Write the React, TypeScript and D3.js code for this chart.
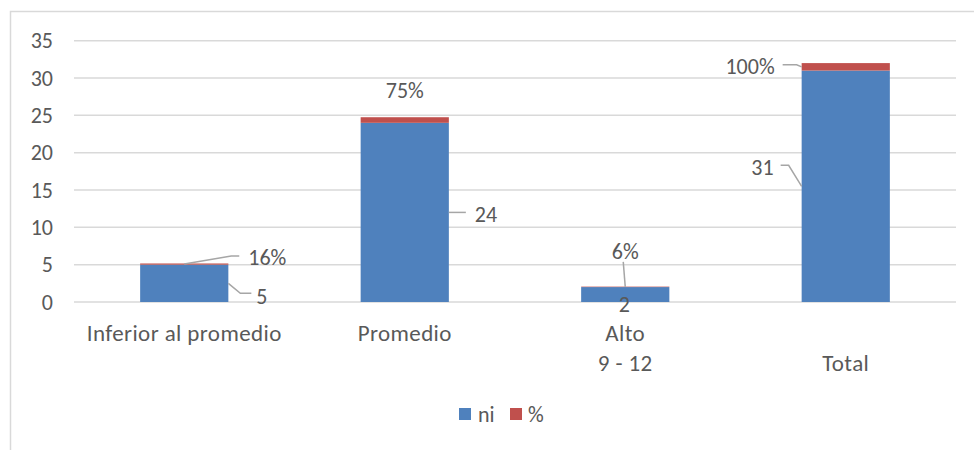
import React from "react";
import * as d3 from "d3";

const categories = ["Inferior al promedio", "Promedio", "Alto 9 - 12", "Total"];
const categoryLines = [["Inferior al promedio"], ["Promedio"], ["Alto", "9 - 12"], ["", "Total"]];
const niValues = [5, 24, 2, 31];
const pctValues = [0.16, 0.75, 0.06, 1.0];
const pctLabels = ["16%", "75%", "6%", "100%"];
const yTicks = [0, 5, 10, 15, 20, 25, 30, 35];
const seriesNames = ["ni", "%"];

const W = 974;
const H = 450;
const BLUE = "#4f81bd";
const RED = "#c0504d";
const TXT = "#595959";
const GRID = "#d9d9d9";
const LEAD = "#a6a6a6";
const FONT = "Calibri, Carlito, Lato, sans-serif";
const FS = 22;
const FS_CAT = 23;

type Lab = { anchor: "right" | "left" | "center"; tx: number; ty: number; ta: string; path: [number, number][] | null };
const niLayout: Lab[] = [
  { anchor: "right", tx: 28, ty: 13, ta: "start", path: [[0, 0], [12, 10], [23, 10]] },
  { anchor: "right", tx: 26, ty: 2, ta: "start", path: [[0, 0], [17, 0]] },
  { anchor: "center", tx: -1, ty: 10, ta: "middle", path: null },
  { anchor: "left", tx: -28, ty: -19, ta: "end", path: [[0, 0], [-13, -21], [-21, -21]] },
];
const pctLayout: Lab[] = [
  { anchor: "center", tx: 64, ty: -7, ta: "start", path: [[0, 0], [47, -8], [55, -8]] },
  { anchor: "center", tx: 0, ty: -30, ta: "middle", path: null },
  { anchor: "center", tx: 0, ty: -35, ta: "middle", path: [[0, 0], [-2, -25]] },
  { anchor: "left", tx: -27, ty: 0, ta: "end", path: [[0, 0], [-5, -2], [-19, -2]] },
];

export default function App() {
  const x = d3.scaleBand<string>().domain(categories).range([74, 956]).paddingInner(0.6).paddingOuter(0.3);
  const y = d3.scaleLinear().domain([0, 35]).range([302, 40.7]);
  const line = d3.line();

  const anchorPt = (i: number, kind: string, lo: number, hi: number): [number, number] => {
    const c = categories[i];
    const x0 = x(c)!;
    const bw = x.bandwidth();
    const ym = y((lo + hi) / 2);
    if (kind === "right") return [x0 + bw, ym];
    if (kind === "left") return [x0, ym];
    return [x0 + bw / 2, ym];
  };

  return (
    <svg width={W} height={H} style={{ position: "absolute", left: 0, top: 0, background: "#fff" }} fontFamily={FONT}>
      <rect x={10.5} y={11.5} width={980} height={460} fill="#fff" stroke="#d9d9d9" strokeWidth={1.5} />
      {yTicks.map((t) => (
        <g key={t}>
          <line x1={74} x2={956} y1={y(t)} y2={y(t)} stroke={GRID} strokeWidth={1.5} />
          <text x={53} y={y(t)} textAnchor="end" dominantBaseline="central" fontSize={FS} fill={TXT}>
            {t}
          </text>
        </g>
      ))}
      {categories.map((c, i) => (
        <g key={c}>
          <rect x={x(c)!} y={y(niValues[i])} width={x.bandwidth()} height={y(0) - y(niValues[i])} fill={BLUE} />
          <rect
            x={x(c)!}
            y={y(niValues[i] + pctValues[i])}
            width={x.bandwidth()}
            height={y(niValues[i]) - y(niValues[i] + pctValues[i])}
            fill={RED}
          />
        </g>
      ))}
      {categories.map((c, i) => {
        const out: JSX.Element[] = [];
        const items = [
          { lay: niLayout[i], lo: 0, hi: niValues[i], txt: String(niValues[i]) },
          { lay: pctLayout[i], lo: niValues[i], hi: niValues[i] + pctValues[i], txt: pctLabels[i] },
        ];
        items.forEach((it, k) => {
          const [ax, ay] = anchorPt(i, it.lay.anchor, it.lo, it.hi);
          if (it.lay.path) {
            out.push(
              <path
                key={`p${k}`}
                d={line(it.lay.path.map(([dx, dy]) => [ax + dx, ay + dy]))!}
                fill="none"
                stroke={LEAD}
                strokeWidth={1.5}
              />
            );
          }
          out.push(
            <text
              key={`t${k}`}
              x={ax + it.lay.tx}
              y={ay + it.lay.ty}
              textAnchor={it.lay.ta}
              dominantBaseline="central"
              fontSize={FS}
              fill={TXT}
            >
              {it.txt}
            </text>
          );
        });
        return <g key={c}>{out}</g>;
      })}
      {categories.map((c, i) => (
        <text key={c} x={x(c)! + x.bandwidth() / 2} textAnchor="middle" fontSize={FS_CAT} letterSpacing={0.4} fill={TXT}>
          {categoryLines[i].map((ln, j) => (
            <tspan key={j} x={x(c)! + x.bandwidth() / 2} y={333 + j * 30} dominantBaseline="central">
              {ln}
            </tspan>
          ))}
        </text>
      ))}
      <g>
        <rect x={459} y={408} width={12} height={12} fill={BLUE} />
        <text x={478} y={414} dominantBaseline="central" fontSize={FS} fill={TXT}>
          {seriesNames[0]}
        </text>
        <rect x={510} y={408} width={12} height={12} fill={RED} />
        <text x={528} y={414} dominantBaseline="central" fontSize={FS} fill={TXT}>
          {seriesNames[1]}
        </text>
      </g>
    </svg>
  );
}
